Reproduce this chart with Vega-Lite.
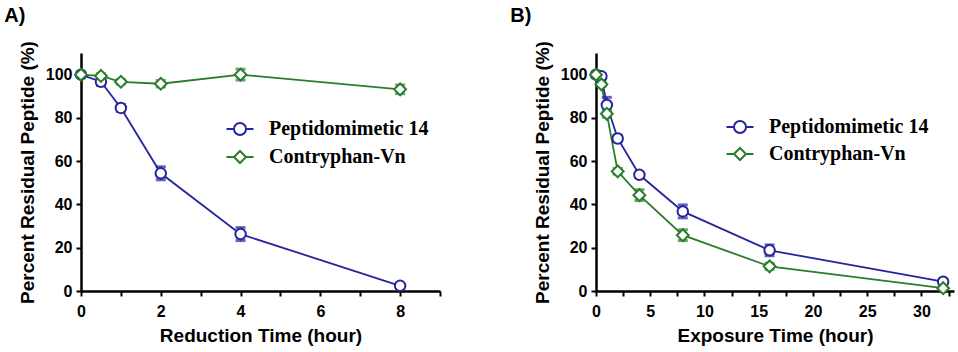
{
  "$schema": "https://vega.github.io/schema/vega-lite/v6.json",
  "padding": {"left": 4, "top": 5, "right": 5, "bottom": 5},
  "background": "white",
  "datasets": {
    "a": [
      {"series": "Peptidomimetic 14", "t": 0, "y": 100, "lo": 100, "hi": 100},
      {"series": "Peptidomimetic 14", "t": 0.5, "y": 96.7, "lo": 95, "hi": 98.4},
      {"series": "Peptidomimetic 14", "t": 1, "y": 84.6, "lo": 83, "hi": 86.2},
      {"series": "Peptidomimetic 14", "t": 2, "y": 54.4, "lo": 51.4, "hi": 57.4},
      {"series": "Peptidomimetic 14", "t": 4, "y": 26.3, "lo": 23.3, "hi": 29.3},
      {"series": "Peptidomimetic 14", "t": 8, "y": 2.4, "lo": 1.4, "hi": 3.4},
      {"series": "Contryphan-Vn", "t": 0, "y": 100, "lo": 100, "hi": 100},
      {"series": "Contryphan-Vn", "t": 0.5, "y": 99.4, "lo": 98.4, "hi": 100.4},
      {"series": "Contryphan-Vn", "t": 1, "y": 96.7, "lo": 95.7, "hi": 97.7},
      {"series": "Contryphan-Vn", "t": 2, "y": 95.8, "lo": 94.3, "hi": 97.3},
      {"series": "Contryphan-Vn", "t": 4, "y": 100, "lo": 97.5, "hi": 102.5},
      {"series": "Contryphan-Vn", "t": 8, "y": 93.2, "lo": 91.2, "hi": 95.2}
    ],
    "b": [
      {"series": "Peptidomimetic 14", "t": 0, "y": 100, "lo": 100, "hi": 100},
      {"series": "Peptidomimetic 14", "t": 0.5, "y": 99.2, "lo": 98, "hi": 100.4},
      {"series": "Peptidomimetic 14", "t": 1, "y": 86, "lo": 82.5, "hi": 89.5},
      {"series": "Peptidomimetic 14", "t": 2, "y": 70.5, "lo": 69, "hi": 72},
      {"series": "Peptidomimetic 14", "t": 4, "y": 53.7, "lo": 52.5, "hi": 54.9},
      {"series": "Peptidomimetic 14", "t": 8, "y": 36.8, "lo": 33.8, "hi": 39.8},
      {"series": "Peptidomimetic 14", "t": 16, "y": 18.8, "lo": 16.3, "hi": 21.3},
      {"series": "Peptidomimetic 14", "t": 32, "y": 4.3, "lo": 3.5, "hi": 5.1},
      {"series": "Contryphan-Vn", "t": 0, "y": 100, "lo": 100, "hi": 100},
      {"series": "Contryphan-Vn", "t": 0.5, "y": 95.5, "lo": 94.5, "hi": 96.5},
      {"series": "Contryphan-Vn", "t": 1, "y": 81.9, "lo": 80.4, "hi": 83.4},
      {"series": "Contryphan-Vn", "t": 2, "y": 55.3, "lo": 54, "hi": 56.6},
      {"series": "Contryphan-Vn", "t": 4, "y": 44.3, "lo": 41.8, "hi": 46.8},
      {"series": "Contryphan-Vn", "t": 8, "y": 25.8, "lo": 23.3, "hi": 28.3},
      {"series": "Contryphan-Vn", "t": 16, "y": 11.4, "lo": 10, "hi": 12.8},
      {"series": "Contryphan-Vn", "t": 32, "y": 1.3, "lo": 0.6, "hi": 2}
    ]
  },
  "spacing": 69,
  "hconcat": [
    {
      "width": 359,
      "height": 238,
      "title": {"text": "A)", "anchor": "start", "dx": -14, "offset": 15},
      "data": {"name": "a"},
      "encoding": {
        "x": {"field": "t", "type": "quantitative", "title": "Reduction Time (hour)",
          "scale": {"domain": [0, 9], "nice": false},
          "axis": {"values": [0, 1, 2, 3, 4, 5, 6, 7, 8, 9], "labelExpr": "datum.value % 2 === 0 && datum.value <= 8 ? datum.label : ''"}},
        "stroke": {"field": "series", "type": "nominal",
          "scale": {"domain": ["Peptidomimetic 14", "Contryphan-Vn"], "range": ["#26249c", "#2a7d2a"]},
          "legend": {"orient": "none", "legendX": 149, "legendY": 66, "title": null, "padding": 0,
            "symbolSize": 144, "symbolStrokeWidth": 2, "symbolFillColor": "white", "labelOffset": 19, "rowPadding": 8,
            "labelLimit": 400,
            "labelFont": "Liberation Serif", "labelFontWeight": "bold", "labelFontSize": 20, "labelColor": "black",
            "encode": {"symbols": {"update": {
              "shape": {"signal": "datum.value === 'Peptidomimetic 14' ? 'M-2.25,0H-1M1,0H2.25M-1,0A1,1 0 1,1 1,0A1,1 0 1,1 -1,0' : 'M-2.25,0H-1M1,0H2.25M-1,0L0,-1L1,0L0,1Z'"},
              "fill": {"value": "white"}}}}}
        }
      },
      "layer": [
        {"mark": {"type": "line", "strokeWidth": 1.8},
          "encoding": {"y": {"field": "y", "type": "quantitative", "title": "Percent Residual Peptide (%)",
            "scale": {"domain": [0, 110], "nice": false},
            "axis": {"values": [0, 10, 20, 30, 40, 50, 60, 70, 80, 90, 100, 110], "labelExpr": "datum.value % 20 === 0 && datum.value <= 100 ? datum.label : ''"}}}},
        {"mark": {"type": "errorbar", "ticks": {"size": 8, "strokeWidth": 2}, "rule": {"strokeWidth": 2}},
          "encoding": {"y": {"field": "lo", "type": "quantitative", "title": "Percent Residual Peptide (%)"}, "y2": {"field": "hi"}}},
        {"mark": {"type": "point", "fill": "white", "strokeWidth": 2, "opacity": 1},
          "encoding": {"y": {"field": "y", "type": "quantitative", "title": "Percent Residual Peptide (%)"},
            "shape": {"field": "series", "type": "nominal", "legend": null,
              "scale": {"domain": ["Peptidomimetic 14", "Contryphan-Vn"], "range": ["circle", "diamond"]}},
            "size": {"field": "series", "type": "nominal", "legend": null,
              "scale": {"domain": ["Peptidomimetic 14", "Contryphan-Vn"], "range": [110, 140]}}}}
      ]
    },
    {
      "width": 358,
      "height": 238,
      "title": {"text": "B)", "anchor": "start", "dx": -23, "offset": 15},
      "data": {"name": "b"},
      "encoding": {
        "x": {"field": "t", "type": "quantitative", "title": "Exposure Time (hour)",
          "scale": {"domain": [0, 33], "nice": false},
          "axis": {"values": [0, 2.5, 5, 7.5, 10, 12.5, 15, 17.5, 20, 22.5, 25, 27.5, 30, 32.5], "labelExpr": "datum.value % 5 === 0 ? datum.label : ''"}},
        "stroke": {"field": "series", "type": "nominal",
          "scale": {"domain": ["Peptidomimetic 14", "Contryphan-Vn"], "range": ["#26249c", "#2a7d2a"]},
          "legend": {"orient": "none", "legendX": 134, "legendY": 64, "title": null, "padding": 0,
            "symbolSize": 144, "symbolStrokeWidth": 2, "symbolFillColor": "white", "labelOffset": 19, "rowPadding": 7,
            "labelLimit": 400,
            "labelFont": "Liberation Serif", "labelFontWeight": "bold", "labelFontSize": 20, "labelColor": "black",
            "encode": {"symbols": {"update": {
              "shape": {"signal": "datum.value === 'Peptidomimetic 14' ? 'M-2.25,0H-1M1,0H2.25M-1,0A1,1 0 1,1 1,0A1,1 0 1,1 -1,0' : 'M-2.25,0H-1M1,0H2.25M-1,0L0,-1L1,0L0,1Z'"},
              "fill": {"value": "white"}}}}}
        }
      },
      "layer": [
        {"mark": {"type": "line", "strokeWidth": 1.8},
          "encoding": {"y": {"field": "y", "type": "quantitative", "title": "Percent Residual Peptide (%)",
            "scale": {"domain": [0, 110], "nice": false},
            "axis": {"values": [0, 10, 20, 30, 40, 50, 60, 70, 80, 90, 100, 110], "labelExpr": "datum.value % 20 === 0 && datum.value <= 100 ? datum.label : ''"}}}},
        {"mark": {"type": "errorbar", "ticks": {"size": 8, "strokeWidth": 2}, "rule": {"strokeWidth": 2}},
          "encoding": {"y": {"field": "lo", "type": "quantitative", "title": "Percent Residual Peptide (%)"}, "y2": {"field": "hi"}}},
        {"mark": {"type": "point", "fill": "white", "strokeWidth": 2, "opacity": 1},
          "encoding": {"y": {"field": "y", "type": "quantitative", "title": "Percent Residual Peptide (%)"},
            "shape": {"field": "series", "type": "nominal", "legend": null,
              "scale": {"domain": ["Peptidomimetic 14", "Contryphan-Vn"], "range": ["circle", "diamond"]}},
            "size": {"field": "series", "type": "nominal", "legend": null,
              "scale": {"domain": ["Peptidomimetic 14", "Contryphan-Vn"], "range": [110, 140]}}}}
      ]
    }
  ],
  "resolve": {"legend": {"stroke": "independent"}},
  "config": {
    "view": {"stroke": null},
    "font": "Liberation Sans",
    "title": {"font": "Liberation Sans", "fontSize": 20, "fontWeight": "bold", "color": "black"},
    "axis": {
      "grid": false,
      "labelFont": "Liberation Sans", "labelFontWeight": "bold", "labelFontSize": 16, "labelColor": "black",
      "titleFont": "Liberation Sans", "titleFontWeight": "bold", "titleFontSize": 19, "titleColor": "black",
      "domainColor": "black", "domainWidth": 2.5, "tickColor": "black", "tickWidth": 2, "tickSize": 5,
      "labelFlush": false, "labelOverlap": false, "labelPadding": 4, "titlePadding": 8
    },
    "axisX": {"labelPadding": 7, "titlePadding": 7}
  }
}
